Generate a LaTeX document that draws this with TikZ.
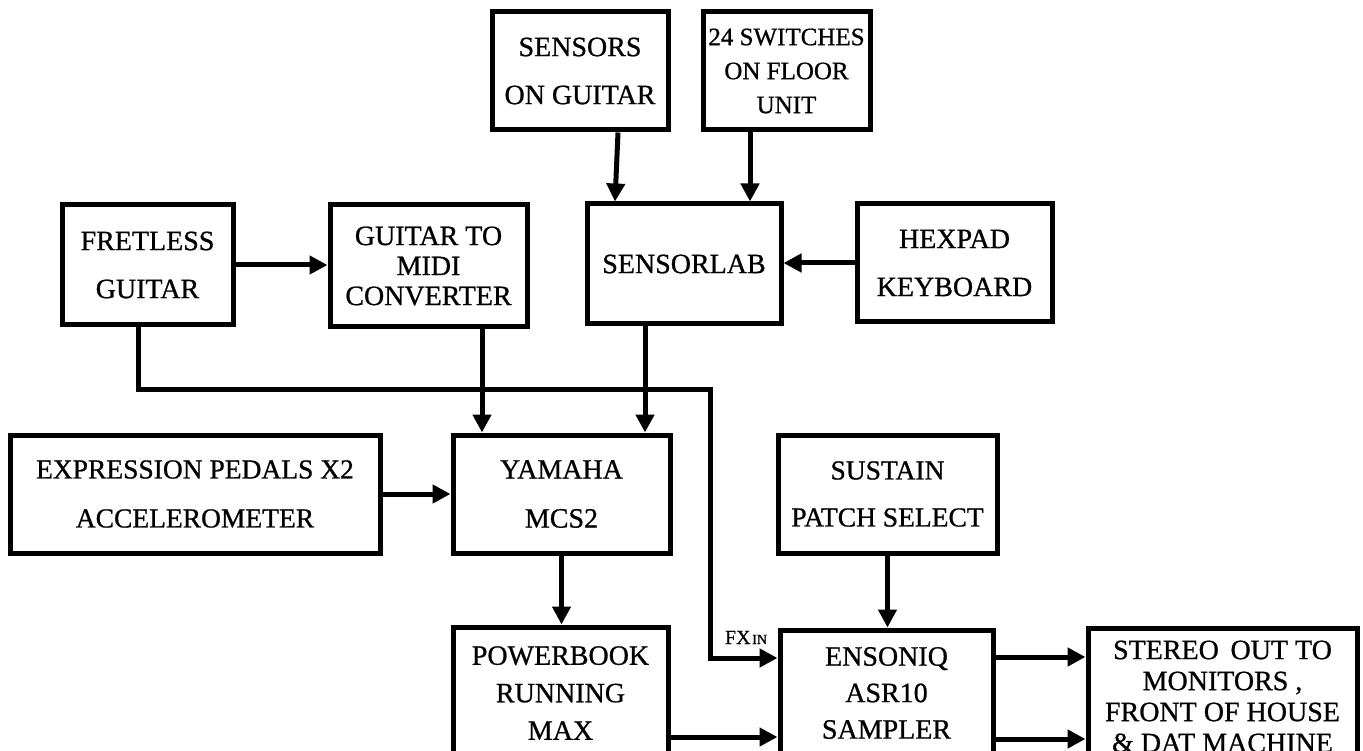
\documentclass[tikz,border=0pt]{standalone}
\usepackage{fontspec}
\setmainfont[FakeBold=0.8]{Liberation Serif}
\usetikzlibrary{arrows.meta}
\begin{document}
\begin{tikzpicture}[x=1pt,y=-1pt,
  box/.style={draw, line width=5pt, align=center, inner sep=0pt, fill=white,
    font=\fontsize{28}{48}\selectfont},
  arr/.style={line width=5pt, -{Triangle[length=18pt,width=18pt]}},
  wire/.style={line width=5pt}]
\useasboundingbox (0,0) rectangle (1363,751);
\fill[white] (0,0) rectangle (1363,751);

% top row
\node[box, minimum width=176pt, minimum height=118pt] (sensors) at (580,71) {SENSORS\\ON GUITAR};
\node[box, minimum width=167pt, minimum height=118pt, font=\fontsize{25}{34}\selectfont] (switches) at (786.5,71) {24 SWITCHES\\ON FLOOR\\UNIT};

% second row
\node[box, minimum width=171pt, minimum height=120pt] (fretless) at (147.5,265) {FRETLESS\\GUITAR};
\node[box, minimum width=197pt, minimum height=122pt, font=\fontsize{28}{30}\selectfont] (gtm) at (428.5,266) {GUITAR TO\\MIDI\\CONVERTER};
\node[box, minimum width=194pt, minimum height=120pt] (sensorlab) at (684,264) {SENSORLAB};
\node[box, minimum width=195pt, minimum height=118pt] (hexpad) at (954.5,263) {HEXPAD\\KEYBOARD};

% third row
\node[box, minimum width=370pt, minimum height=118pt, font=\fontsize{27.5}{49}\selectfont] (expression) at (195,494) {EXPRESSION PEDALS X2\\ACCELEROMETER};
\node[box, minimum width=217pt, minimum height=118pt, font=\fontsize{28}{49}\selectfont] (yamaha) at (561.5,494) {YAMAHA\\MCS2};
\node[box, minimum width=219pt, minimum height=118pt, font=\fontsize{27.5}{47}\selectfont] (sustain) at (887.5,494) {SUSTAIN\\PATCH SELECT};

% bottom row (cut by the page edge)
\node[box, minimum width=215pt, minimum height=132pt, font=\fontsize{28}{37.5}\selectfont] (powerbook) at (560.5,693) {POWERBOOK\\RUNNING\\MAX};
\node[box, minimum width=213pt, minimum height=126pt, font=\fontsize{28}{36.5}\selectfont] (ensoniq) at (886.5,693) {ENSONIQ\\ASR10\\SAMPLER};
\node[box, minimum width=269pt, minimum height=137pt, font=\fontsize{28}{31}\selectfont] (stereo) at (1222.5,696.5) {STEREO\, OUT TO\\MONITORS ,\\FRONT OF HOUSE\\\& DAT MACHINE};

% connectors
\draw[arr] ([xshift=38pt]sensors.south) -- ([xshift=-69pt]sensorlab.north);
\draw[arr] ([xshift=-36.5pt]switches.south) -- ([xshift=-36.5pt]switches.south |- sensorlab.north);
\draw[arr] (hexpad.west) -- (hexpad.west -| sensorlab.east);
\draw[arr] (fretless.east) -- (fretless.east -| gtm.west);
\draw[arr] ([xshift=53.5pt]gtm.south) -- ([xshift=53.5pt]gtm.south |- yamaha.north);
\draw[arr] ([xshift=-39pt]sensorlab.south) -- ([xshift=-39pt]sensorlab.south |- yamaha.north);
\draw[arr] (expression.east) -- (expression.east -| yamaha.west);
\draw[arr] (yamaha.south) -- (yamaha.south |- powerbook.north);
\draw[arr] (sustain.south) -- (sustain.south |- ensoniq.north);

\coordinate (c1) at (138,389);
\coordinate (c2) at (710,389);
\coordinate (c3) at (710,658);
\draw[arr] (fretless.south -| c1) -- (c1) -- (c2) -- (c3) -- (c3 -| ensoniq.west);
\node[anchor=base, inner sep=0pt] (fxin) at (746,644) {{\fontsize{20}{20}\selectfont FX}\,{\fontsize{14}{14}\selectfont IN}};

\draw[arr] ([yshift=-44pt]powerbook.east) -- ([yshift=-44pt]powerbook.east -| ensoniq.west);
\draw[arr] ([yshift=36pt]ensoniq.east) -- ([yshift=36pt]ensoniq.east -| stereo.west);
\draw[arr] ([yshift=-46pt]ensoniq.east) -- ([yshift=-46pt]ensoniq.east -| stereo.west);
\end{tikzpicture}
\end{document}
